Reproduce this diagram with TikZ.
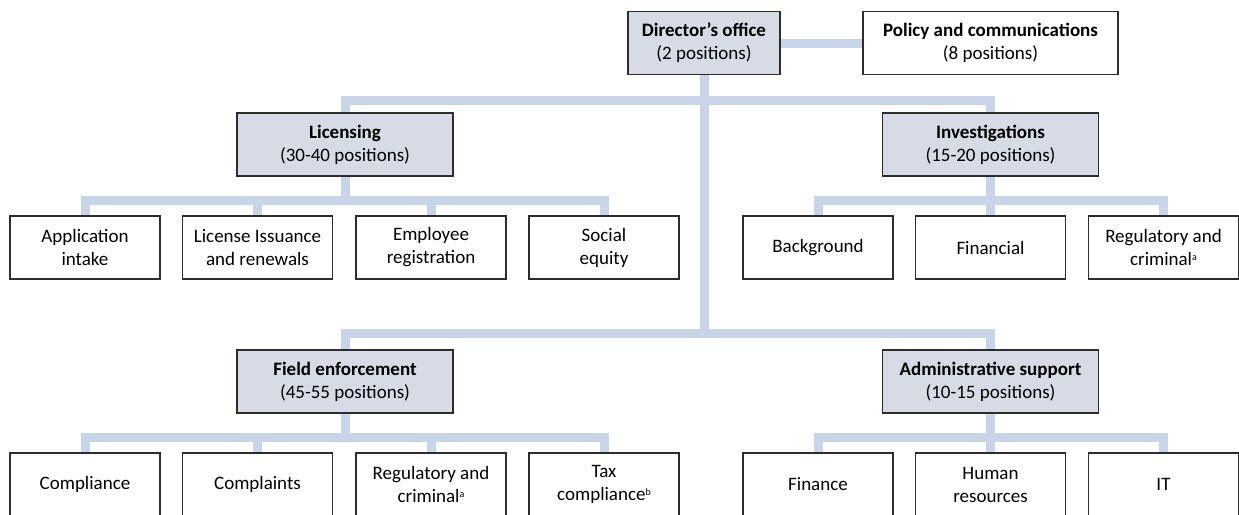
\documentclass[tikz,border=0pt]{standalone}
\usepackage{fontspec}
\setmainfont{Carlito}
\usetikzlibrary{backgrounds}
\definecolor{barc}{RGB}{200,213,232}
\definecolor{mgr}{RGB}{214,219,230}
\definecolor{edgec}{RGB}{45,45,45}
\newcommand{\supr}[1]{\raisebox{0.6ex}{\fontsize{10}{10}\selectfont #1}}
\tikzset{
  box/.style={draw=edgec, line width=1.3pt, fill=white, align=center, inner sep=0pt,
    minimum height=63pt, font=\fontsize{19}{23}\selectfont, text=black},
  mgrbox/.style={box, fill=mgr, minimum width=216pt},
  leaf/.style={box, minimum width=150pt},
  bar/.style={draw=barc, line width=9pt},
}
\begin{document}
\begin{tikzpicture}[x=1pt,y=-1pt]
\useasboundingbox (0,0) rectangle (1239,514);
\clip (0,0) rectangle (1239,514);

% top level
\node[mgrbox, minimum width=152pt] (dir) at (704,43) {\textbf{Director’s office}\\(2 positions)};
\node[box, minimum width=255pt] (pol) at (990.5,43) {\textbf{Policy and communications}\\(8 positions)};

% second level
\node[mgrbox] (lic) at (345,144.5) {\textbf{Licensing}\\(30-40 positions)};
\node[mgrbox] (inv) at (990.5,144.5) {\textbf{Investigations}\\(15-20 positions)};

\node[leaf] (a1) at (85,247.5) {Application\\intake};
\node[leaf] (a2) at (257.5,247.5) {License Issuance\\and renewals};
\node[leaf] (a3) at (431,247.5) {Employee\\registration};
\node[leaf] (a4) at (604,247.5) {Social\\equity};

\node[leaf] (b1) at (818,247.5) {Background};
\node[leaf] (b2) at (990.5,247.5) {Financial};
\node[leaf] (b3) at (1163.5,247.5) {Regulatory and\\criminal\supr{a}};

% third level
\node[mgrbox] (fe) at (345,381.5) {\textbf{Field enforcement}\\(45-55 positions)};
\node[mgrbox] (adm) at (990.5,381.5) {\textbf{Administrative support}\\(10-15 positions)};

\node[leaf] (c1) at (85,484.5) {Compliance};
\node[leaf] (c2) at (257.5,484.5) {Complaints};
\node[leaf] (c3) at (431,484.5) {Regulatory and\\criminal\supr{a}};
\node[leaf] (c4) at (604,484.5) {Tax\\compliance\supr{b}};

\node[leaf] (d1) at (818,484.5) {Finance};
\node[leaf] (d2) at (990.5,484.5) {Human\\resources};
\node[leaf] (d3) at (1163.5,484.5) {IT};

% junctions
\coordinate (t1) at (704,100);
\coordinate (t2) at (704,333);
\coordinate (l1) at (345,200);
\coordinate (i1) at (990.5,200);
\coordinate (f1) at (345,437);
\coordinate (s1) at (990.5,437);

\begin{scope}[on background layer]
  \draw[bar] (dir) -- (pol);
  \draw[bar] (dir.south) -- (t2);
  \draw[bar] (lic.north) |- (t1) -| (inv.north);
  \draw[bar] (fe.north) |- (t2) -| (adm.north);

  \draw[bar] (lic.south) -- (l1);
  \draw[bar] (a1.north) |- (l1) -| (a4.north);
  \draw[bar] (a2.north) -- (a2.north |- l1);
  \draw[bar] (a3.north) -- (a3.north |- l1);

  \draw[bar] (inv.south) -- (b2.north);
  \draw[bar] (b1.north) |- (i1) -| (b3.north);

  \draw[bar] (fe.south) -- (f1);
  \draw[bar] (c1.north) |- (f1) -| (c4.north);
  \draw[bar] (c2.north) -- (c2.north |- f1);
  \draw[bar] (c3.north) -- (c3.north |- f1);

  \draw[bar] (adm.south) -- (d2.north);
  \draw[bar] (d1.north) |- (s1) -| (d3.north);
\end{scope}
\end{tikzpicture}
\end{document}
